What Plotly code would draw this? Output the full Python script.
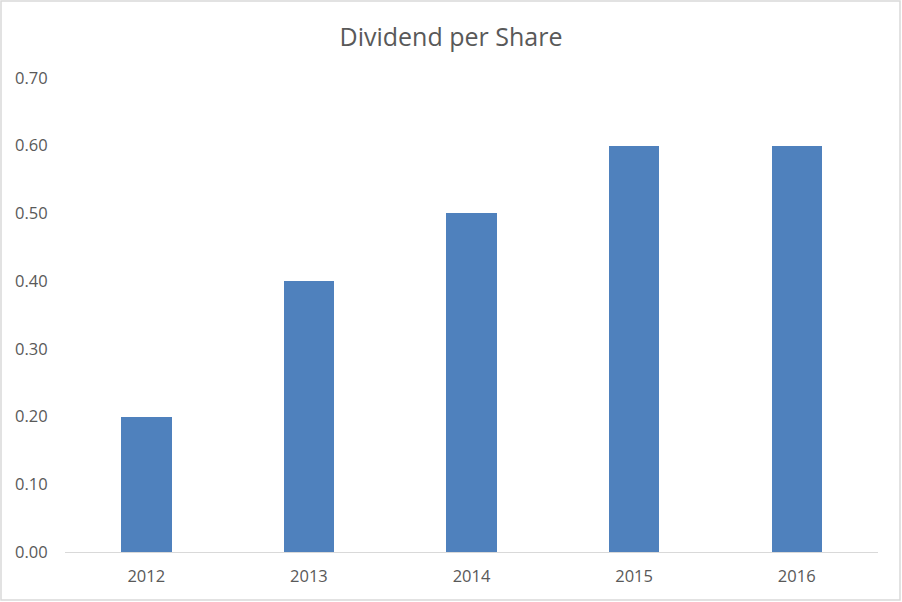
import plotly.graph_objects as go

# Data
years = ["2012", "2013", "2014", "2015", "2016"]
dividend = [0.20, 0.40, 0.50, 0.60, 0.60]
y_ticks = [0.0, 0.1, 0.2, 0.3, 0.4, 0.5, 0.6, 0.7]

fig = go.Figure()

fig.add_trace(
    go.Bar(
        x=years,
        y=dividend,
        marker=dict(color="#4F81BD", line=dict(width=0)),
        width=0.31,
        name="Dividend per Share",
    )
)

fig.update_layout(
    title=dict(
        text="Dividend per Share",
        x=0.5,
        xanchor="center",
        y=0.938,
        yanchor="middle",
        font=dict(family="Open Sans, sans-serif", size=25, color="#595959"),
    ),
    width=902,
    height=602,
    paper_bgcolor="#FFFFFF",
    plot_bgcolor="#FFFFFF",
    font=dict(family="Open Sans, sans-serif", size=16.5, color="#595959"),
    showlegend=False,
    bargap=0,
    margin=dict(l=65, r=24, t=78, b=50),
    shapes=[
        dict(
            type="rect",
            xref="paper",
            yref="paper",
            x0=-64 / 813,
            x1=1 + 22 / 813,
            y0=-48 / 474,
            y1=1 + 77 / 474,
            line=dict(color="#D9D9D9", width=1.5),
            fillcolor="rgba(0,0,0,0)",
            layer="below",
        )
    ],
)

fig.update_xaxes(
    showgrid=False,
    showline=True,
    linecolor="#D9D9D9",
    linewidth=1,
    ticks="outside",
    ticklen=9,
    tickcolor="rgba(0,0,0,0)",
    zeroline=False,
)

fig.update_yaxes(
    range=[0, 0.7],
    tickvals=y_ticks,
    tickformat=".2f",
    showgrid=False,
    showline=False,
    zeroline=False,
    ticks="outside",
    ticklen=13,
    tickcolor="rgba(0,0,0,0)",
)

# drop the default page margin so the figure sits at the window's corner
fig.write_html(
    "out.html",
    config={"displayModeBar": False},
    post_script="document.body.style.margin='0';",
)
